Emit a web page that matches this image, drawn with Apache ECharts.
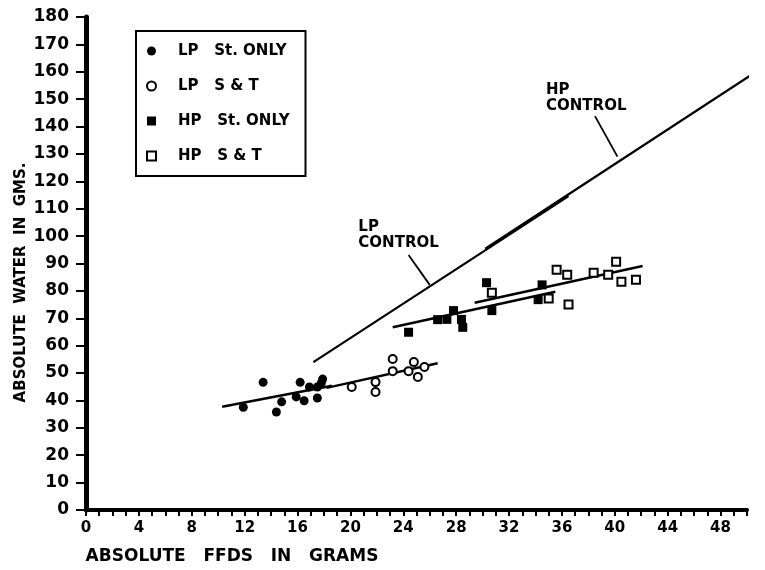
<!DOCTYPE html>
<html>
<head>
<meta charset="utf-8">
<script src="https://cdn.jsdelivr.net/npm/echarts@6/dist/echarts.min.js"></script>
<style>
  html, body { margin: 0; padding: 0; background: #fff; }
  #chart { width: 765px; height: 570px; }
</style>
</head>
<body>
<div id="chart"></div>
<script>
// points: [FFDS g, water g]
const lpStOnly = [[11.9, 37.5], [13.4, 46.6], [14.4, 35.8], [14.8, 39.5], [15.9, 41.3], [16.2, 46.6],
  [16.5, 39.9], [16.9, 44.9], [17.5, 40.9], [17.5, 44.9], [17.9, 47.8], [17.8, 46.4]];
const lpST = [[20.1, 44.9], [21.9, 46.7], [21.9, 43.1], [23.2, 55.1], [23.2, 50.7],
  [24.4, 50.7], [24.8, 54.0], [25.1, 48.6], [25.6, 52.2]];
const hpStOnly = [[24.4, 64.9], [26.6, 69.5], [27.3, 69.6], [27.8, 72.8], [28.4, 69.6], [28.5, 66.7],
  [30.3, 83.0], [30.7, 72.8], [34.2, 76.8], [34.5, 82.2]];
const hpST = [[30.7, 79.3], [35.0, 77.2], [35.6, 87.7], [36.4, 85.9], [36.5, 75.0], [38.4, 86.6],
  [39.5, 85.9], [40.1, 90.6], [40.5, 83.3], [41.6, 84.1]];

// fitted / control lines
const lpStFit = [[10.3, 37.7], [18.6, 45.4]];
const lpSTFit = [[18.2, 44.6], [26.6, 53.6]];
const hpStFit = [[23.2, 66.7], [35.5, 79.7]];
const hpSTFit = [[29.4, 75.7], [42.1, 89.1]];
const lpControl = [[17.2, 54.0], [36.5, 114.6]];
const hpControl = [[30.2, 95.4], [51.6, 162.9]];
const lpPointer = [[24.4, 93.1], [26.0, 82.2]];
const hpPointer = [[38.5, 143.8], [40.2, 129.0]];
const controlLabels = [[20.6, 100.4, 'LP\nCONTROL'], [34.8, 150.4, 'HP\nCONTROL']];

const legendNames = ['LP   St. ONLY', 'LP   S & T', 'HP   St. ONLY', 'HP   S & T'];

const font = 'DejaVu Sans';
let myChart = echarts.init(document.getElementById('chart'));

function lineSeries(data, width, extra) {
  return Object.assign({
    type: 'line',
    data: data,
    symbol: 'none',
    silent: true,
    lineStyle: { color: '#000', width: width },
    z: 3
  }, extra || {});
}

myChart.setOption({
  animation: false,
  backgroundColor: '#fff',
  grid: { left: 86, right: 18, top: 17, bottom: 56 },
  legend: {
    orient: 'vertical',
    left: 136,
    top: 31,
    padding: [11, 16, 11, 10],
    itemWidth: 9,
    itemHeight: 9,
    itemGap: 17,
    borderColor: '#000',
    borderWidth: 2,
    backgroundColor: '#fff',
    textStyle: { fontFamily: font, fontSize: 15, fontWeight: 'bold', color: '#000', padding: [0, 0, 0, 17], lineHeight: 18 },
    data: [
      { name: legendNames[0], icon: 'circle', itemStyle: { color: '#000', borderWidth: 0, opacity: 1 } },
      { name: legendNames[1], icon: 'circle', itemStyle: { color: '#fff', borderColor: '#000', borderWidth: 2, opacity: 1 } },
      { name: legendNames[2], icon: 'rect', itemStyle: { color: '#000', borderWidth: 0, opacity: 1 } },
      { name: legendNames[3], icon: 'rect', itemStyle: { color: '#fff', borderColor: '#000', borderWidth: 2, opacity: 1 } }
    ]
  },
  xAxis: {
    type: 'value',
    min: 0,
    max: 50,
    interval: 1,
    name: 'ABSOLUTE   FFDS   IN   GRAMS',
    nameLocation: 'middle',
    nameGap: 38,
    nameTextStyle: { fontFamily: font, fontSize: 17, fontWeight: 'bold', color: '#000', padding: [0, 369, 0, 0] },
    axisLine: { show: true, onZero: false, lineStyle: { color: '#000', width: 4 } },
    axisTick: { show: true, inside: false, length: 6, lineStyle: { color: '#000', width: 2 } },
    axisLabel: {
      margin: 11,
      fontFamily: font,
      fontSize: 15,
      fontWeight: 'bold',
      color: '#000',
      formatter: function (v) { return v % 4 === 0 ? String(v) : ''; }
    },
    splitLine: { show: false }
  },
  yAxis: {
    type: 'value',
    min: 0,
    max: 180,
    interval: 10,
    name: 'ABSOLUTE  WATER  IN  GMS.',
    nameLocation: 'middle',
    nameGap: 57,
    nameMoveOverlap: false,
    nameTextStyle: { fontFamily: font, fontSize: 15, fontWeight: 'bold', color: '#000', padding: [0, 38, 0, 0] },
    axisLine: { show: true, onZero: false, lineStyle: { color: '#000', width: 5 } },
    axisTick: { show: true, inside: false, length: 10, lineStyle: { color: '#000', width: 2 } },
    axisLabel: { margin: 17, fontFamily: font, fontSize: 17, fontWeight: 'bold', color: '#000' },
    splitLine: { show: false }
  },
  series: [
    { name: legendNames[0], type: 'scatter', data: lpStOnly, symbol: 'circle', symbolSize: 9,
      itemStyle: { color: '#000', opacity: 1 }, z: 4 },
    { name: legendNames[1], type: 'scatter', data: lpST, symbol: 'circle', symbolSize: 8,
      itemStyle: { color: '#fff', borderColor: '#000', borderWidth: 2, opacity: 1 }, z: 4 },
    { name: legendNames[2], type: 'scatter', data: hpStOnly, symbol: 'rect', symbolSize: 9,
      itemStyle: { color: '#000', opacity: 1 }, z: 4 },
    { name: legendNames[3], type: 'scatter', data: hpST, symbol: 'rect', symbolSize: 8,
      itemStyle: { color: '#fff', borderColor: '#000', borderWidth: 2, opacity: 1 }, z: 4 },
    lineSeries(lpStFit, 2.5),
    lineSeries(lpSTFit, 2.5),
    lineSeries(hpStFit, 2.5),
    lineSeries(hpSTFit, 2.5),
    lineSeries(lpControl, 2.2),
    lineSeries(hpControl, 2.2, { clip: false }),
    lineSeries(lpPointer, 1.8),
    lineSeries(hpPointer, 1.8),
    {
      type: 'scatter',
      data: controlLabels,
      symbolSize: 0,
      silent: true,
      itemStyle: { opacity: 1 },
      label: {
        show: true,
        position: 'right',
        distance: 0,
        align: 'left',
        verticalAlign: 'middle',
        fontFamily: font,
        fontSize: 15,
        fontWeight: 'bold',
        lineHeight: 16,
        color: '#000',
        opacity: 1,
        formatter: function (p) { return p.data[2]; }
      }
    }
  ]
});
</script>
</body>
</html>
